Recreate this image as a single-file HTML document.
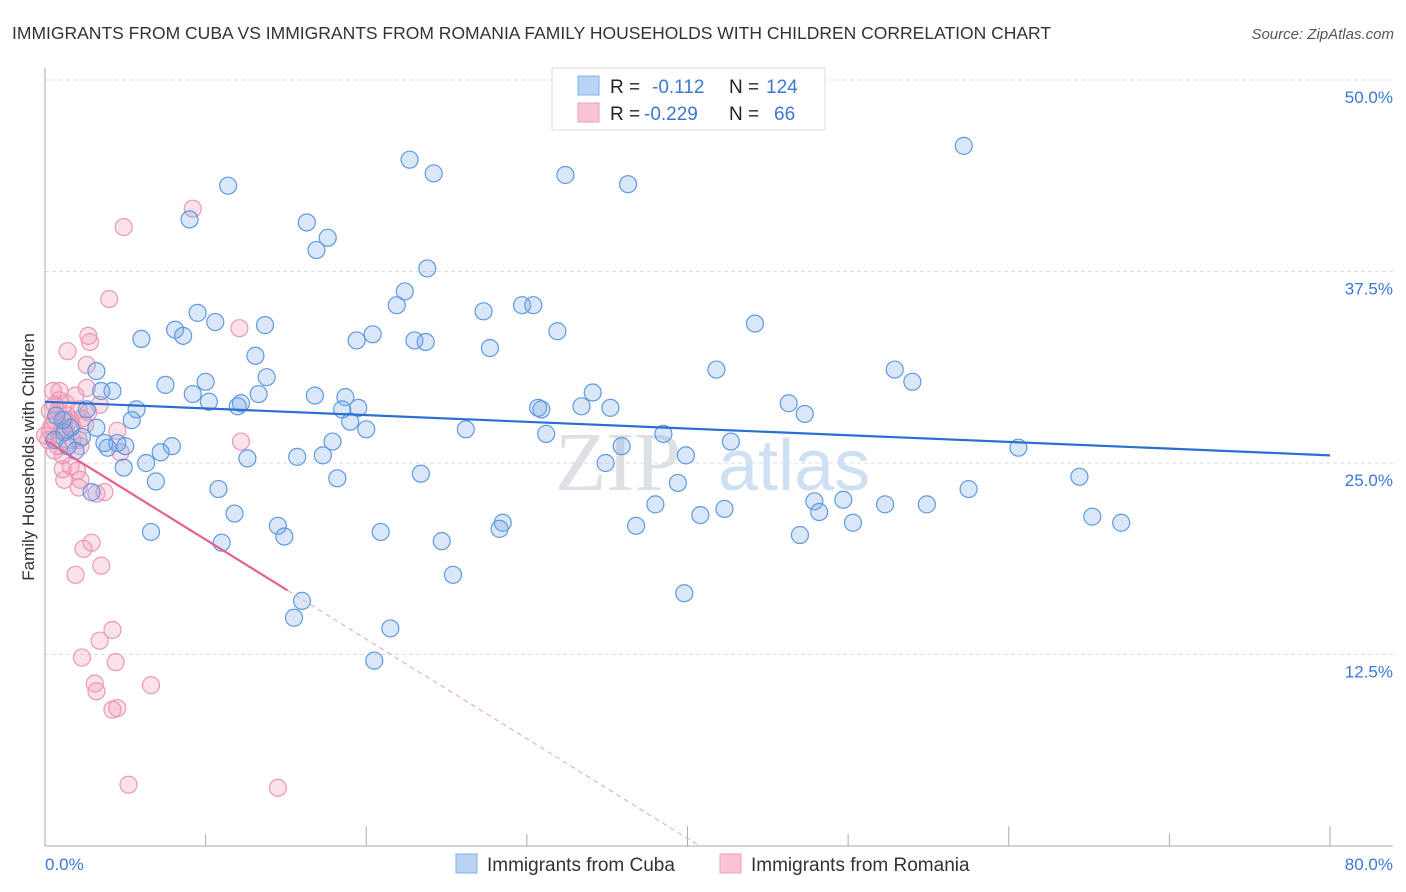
<!DOCTYPE html>
<html><head><meta charset="utf-8">
<style>
body{margin:0;background:#fff;font-family:"Liberation Sans",sans-serif;}
svg{display:block}
</style></head>
<body>
<svg id="chart" width="1406" height="892" xmlns="http://www.w3.org/2000/svg">
<text x="12" y="39" font-size="17.5" fill="#333">IMMIGRANTS FROM CUBA VS IMMIGRANTS FROM ROMANIA FAMILY HOUSEHOLDS WITH CHILDREN CORRELATION CHART</text>
<text x="1394" y="39" font-size="15" fill="#555" text-anchor="end" font-style="italic">Source: ZipAtlas.com</text>
<g id="grid"></g>
<g id="watermark">
<text x="555" y="490" font-size="84" font-family="Liberation Serif,serif" fill="#dde0e4">ZIP</text>
<text x="718" y="490" font-size="72" fill="#cfe0f3">atlas</text>
</g>
<line x1="45" y1="68" x2="45" y2="846" stroke="#aaa" stroke-width="1"/>
<line x1="45" y1="846" x2="1393" y2="846" stroke="#aaa" stroke-width="1"/>
<g id="ticks"></g>
<g id="pts-romania"></g>
<g id="pts-cuba"></g>
<g id="trends"></g>
<text transform="translate(34,457) rotate(-90)" text-anchor="middle" font-size="17" fill="#333">Family Households with Children</text>
<text x="45" y="870" font-size="17" fill="#3a78d4">0.0%</text>
<text x="1393" y="870" font-size="17" fill="#3a78d4" text-anchor="end">80.0%</text>
<g>
<rect x="552" y="68" width="273" height="62" fill="#fff" stroke="#ddd"/>
<rect x="578" y="76" width="21" height="19" fill="#b9d3f5" stroke="#7fb0e8"/>
<rect x="578" y="103" width="21" height="19" fill="#fac4d3" stroke="#eea0b8"/>
<text x="610" y="93" font-size="19" fill="#222">R = </text><text x="652" y="93" font-size="19" fill="#3a78d4">-0.112</text>
<text x="729" y="93" font-size="19" fill="#222">N = </text><text x="766" y="93" font-size="19" fill="#3a78d4">124</text>
<text x="610" y="120" font-size="19" fill="#222">R = </text><text x="644" y="120" font-size="19" fill="#3a78d4">-0.229</text>
<text x="729" y="120" font-size="19" fill="#222">N = </text><text x="774" y="120" font-size="19" fill="#3a78d4">66</text>
</g>
<g>
<rect x="456" y="854" width="21" height="19" fill="#b9d3f5" stroke="#7fb0e8"/>
<text x="487" y="871" font-size="19" fill="#333">Immigrants from Cuba</text>
<rect x="720" y="854" width="21" height="19" fill="#fac4d3" stroke="#eea0b8"/>
<text x="751" y="871" font-size="19" fill="#333">Immigrants from Romania</text>
</g>
</svg>
<script>
const yTicks=[12.5,25,37.5,50];
const yTickLabels=["12.5%","25.0%","37.5%","50.0%"];
const xTicks=[10,20,30,40,50,60,70,80];
const cubaX=[57.2,22.7,24.2,32.4,36.3,11.4,9.0,16.3,17.6,16.9,23.8,22.4,21.9,27.3,29.7,30.4,44.2,31.9,10.6,13.7,8.1,9.5,8.6,6.0,19.4,20.4,23.0,23.7,27.7,13.1,41.8,52.9,54.0,3.2,13.8,10.0,7.5,4.2,3.5,9.2,16.8,18.7,34.1,46.3,10.2,12.2,12.0,13.3,19.5,18.5,30.7,30.9,33.4,35.2,47.3,2.6,5.7,5.4,19.0,20.0,26.2,31.2,38.5,17.9,42.7,3.9,5.0,4.5,7.9,7.2,12.6,15.7,17.3,35.9,39.9,60.6,34.9,6.3,4.9,23.4,18.2,6.9,39.4,64.4,57.5,10.8,2.9,38.0,49.7,47.9,52.3,54.9,42.3,40.8,48.2,11.8,50.3,65.2,67.0,28.5,28.3,36.8,14.5,14.9,20.9,6.6,47.0,24.7,11.0,25.4,39.8,16.0,15.5,21.5,20.5,3.7,1.2,1.6,1.9,0.7,2.3,3.2,1.1,0.6,1.4];
const cubaY=[45.7,44.8,43.9,43.8,43.2,43.1,40.9,40.7,39.7,38.9,37.7,36.2,35.3,34.9,35.3,35.3,34.1,33.6,34.2,34.0,33.7,34.8,33.3,33.1,33.0,33.4,33.0,32.9,32.5,32.0,31.1,31.1,30.3,31.0,30.6,30.3,30.1,29.7,29.7,29.5,29.4,29.3,29.6,28.9,29.0,28.9,28.7,29.5,28.6,28.5,28.6,28.5,28.7,28.6,28.2,28.5,28.5,27.8,27.7,27.2,27.2,26.9,26.9,26.4,26.4,26.0,26.1,26.3,26.1,25.7,25.3,25.4,25.5,26.1,25.5,26.0,25.0,25.0,24.7,24.3,24.0,23.8,23.7,24.1,23.3,23.3,23.1,22.3,22.6,22.5,22.3,22.3,22.0,21.6,21.8,21.7,21.1,21.5,21.1,21.1,20.7,20.9,20.9,20.2,20.5,20.5,20.3,19.9,19.8,17.7,16.5,16.0,14.9,14.2,12.1,26.3,27.0,27.3,25.8,28.1,26.7,27.3,27.8,26.5,26.1];
const romX=[9.2,4.9,4.0,12.1,2.7,2.8,1.4,2.6,0.5,2.6,1.3,3.4,0.8,2.1,1.2,2.5,4.5,0.3,0.9,1.7,12.2,0.6,2.2,4.7,1.6,1.1,2.0,2.2,1.2,3.7,3.2,2.1,2.9,2.4,3.5,1.9,4.2,3.4,2.3,4.4,3.1,3.2,6.6,4.2,4.5,5.2,14.5,0.3,0.6,1.4,1.7,0.9,1.9,0.4,1.3,0.8,0.2,1.1,1.6,2.3,0.6,2.1,1.1,2.7,0,0.9];
const romY=[41.6,40.4,35.7,33.8,33.3,32.9,32.3,31.4,29.7,29.9,28.9,28.8,28.4,28.5,27.8,27.5,27.1,27.1,26.8,26.5,26.4,25.8,26.1,25.7,24.8,24.6,24.5,23.9,23.9,23.1,23.0,23.4,19.8,19.4,18.3,17.7,14.1,13.4,12.3,12.0,10.6,10.1,10.5,8.9,9.0,4.0,3.8,28.4,27.8,28.1,27.4,29.1,29.4,27.4,27.1,26.1,26.5,25.5,27.8,27.9,28.8,26.5,27.3,28.3,26.8,29.7];
const cubaTrend=[29.0,25.5];
const romTrend=[26.5,-0.65];

const X0=45,X1=1330,Y0=846,Y1=80;
const sx=v=>X0+(X1-X0)*v/80;
const sy=v=>Y0-(Y0-Y1)*v/50;
const NS="http://www.w3.org/2000/svg";
function mk(tag,attrs,parent){const e=document.createElementNS(NS,tag);for(const k in attrs)e.setAttribute(k,attrs[k]);parent.appendChild(e);return e;}
const grid=document.getElementById('grid');
yTicks.forEach((t,i)=>{
  const l=mk('line',{x1:45,x2:1393,y1:sy(t),y2:sy(t),stroke:'#ddd','stroke-dasharray':'4,3'},grid);
  
  
  const tx=mk('text',{x:1393,y:sy(t)+23,'font-size':17,fill:'#3a78d4','text-anchor':'end'},grid);
  tx.textContent=yTickLabels[i];
  
  
});
const ticks=document.getElementById('ticks');
xTicks.forEach(t=>{
  const l=mk('line',{x1:sx(t),x2:sx(t),y1:(t%20===0?826:834),y2:846,stroke:'#aaa'},ticks);
  
  
});
const gr=document.getElementById('pts-romania');
romX.forEach((x,i)=>{
  const c=mk('circle',{cx:sx(x),cy:sy(romY[i]),r:8.5,fill:'rgba(242,150,180,0.28)',stroke:'#eb98b5','stroke-width':1.2},gr);
  
  
});
const gc=document.getElementById('pts-cuba');
cubaX.forEach((x,i)=>{
  const c=mk('circle',{cx:sx(x),cy:sy(cubaY[i]),r:8.5,fill:'rgba(120,170,235,0.28)',stroke:'#5f9ae0','stroke-width':1.2},gc);
  
  
});
const tr=document.getElementById('trends');
const bl=mk('line',{x1:sx(0),y1:sy(cubaTrend[0]),x2:sx(80),y2:sy(cubaTrend[1]),stroke:'#2a6fd1','stroke-width':2.2},tr);


const rf=x=>romTrend[0]+romTrend[1]*x;
const xz=-romTrend[0]/romTrend[1];
const pl=mk('line',{x1:sx(0),y1:sy(rf(0)),x2:sx(15.1),y2:sy(rf(15.1)),stroke:'#e4628e','stroke-width':2.2},tr);


const pd=mk('line',{x1:sx(15.1),y1:sy(rf(15.1)),x2:sx(xz),y2:sy(0),stroke:'#eaa0b8','stroke-width':1,'stroke-dasharray':'5,4'},tr);


</script>
</body></html>
